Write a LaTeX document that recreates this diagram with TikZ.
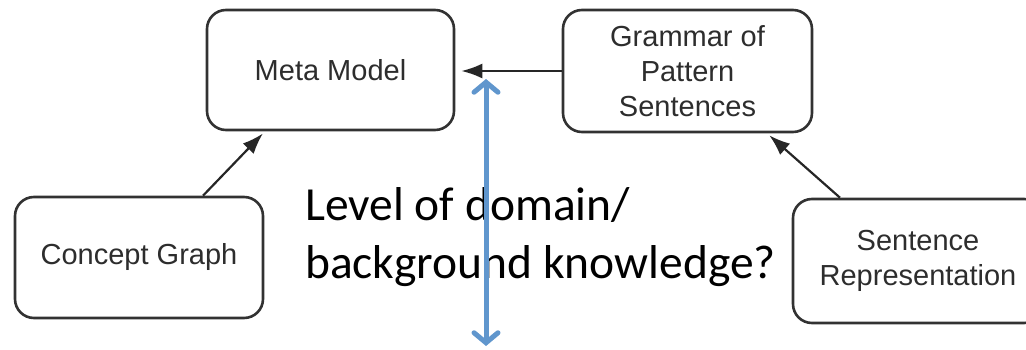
\documentclass[tikz,border=0pt]{standalone}
\usepackage{fontspec}
\setmainfont{Liberation Sans}
\newfontfamily\notefont{Carlito}
\usetikzlibrary{arrows.meta,calc}
\definecolor{boxline}{RGB}{50,50,50}
\definecolor{boxtext}{RGB}{45,45,45}
\definecolor{rangeblue}{RGB}{96,150,205}
\tikzset{
  block/.style={draw=boxline, line width=2.6pt, rounded corners=19pt,
    inner sep=0pt, align=center, text=boxtext,
    font=\fontsize{29}{35}\selectfont},
  link/.style={draw=black!85, line width=2.2pt,
    -{Latex[length=21pt,width=15pt]}},
  spanarrow/.style={draw=rangeblue, line width=5pt,
    {Straight Barb[length=10pt,width=24pt,line cap=round]}-{Straight Barb[length=10pt,width=24pt,line cap=round]}},
  note/.style={anchor=base west, inner sep=0pt, font=\notefont\fontsize{47.5}{57}\selectfont}
}
\begin{document}
\begin{tikzpicture}[x=1pt,y=-1pt]
  \clip (0,0) rectangle (1026,350);
  \useasboundingbox (0,0) rectangle (1026,350);

  % model boxes
  \node[block, minimum width=247pt, minimum height=120pt] (meta) at (330.5,70) {Meta Model};
  \node[block, minimum width=249pt, minimum height=122pt] (gram) at (687.5,71) {Grammar of\\Pattern\\Sentences};
  \node[block, minimum width=248pt, minimum height=121pt] (concept) at (139,257.5) {Concept Graph};
  \node[block, minimum width=250pt, minimum height=124pt] (sentrep) at (918,261) {Sentence\\Representation};

  % dependencies
  \draw[link] (gram.west) -- ([xshift=6pt]meta.east |- gram.west);
  \draw[link, shorten >=3pt] ([xshift=64pt]concept.north) -- ([xshift=-65.5pt]meta.south);
  \draw[link, shorten >=3pt] ([xshift=-78pt]sentrep.north) -- ([xshift=79.5pt]gram.south);

  % question text
  \node[note] (q1) at (305,220) {Level of domain/};
  \node[note] (q2) at (305,278) {background knowledge?};

  % marker for the range of knowledge
  \coordinate (rtop) at (486,79);
  \coordinate (rbot) at (486,346);
  \draw[spanarrow] (rtop) -- (rbot);
\end{tikzpicture}
\end{document}
